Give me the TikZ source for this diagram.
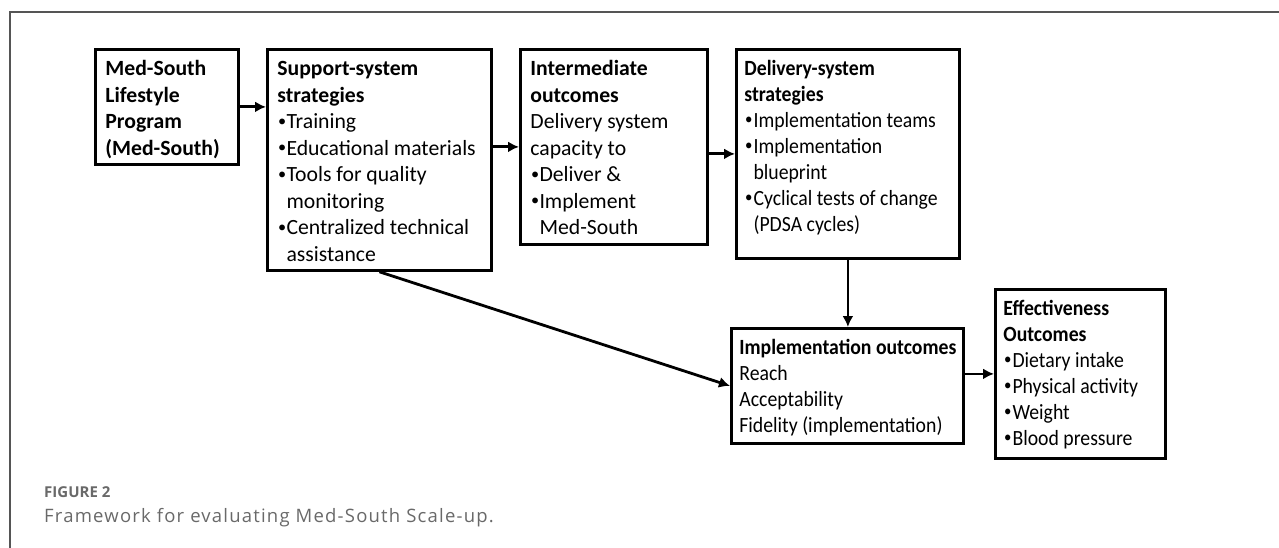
\documentclass[tikz,border=0pt]{standalone}
\usepackage{fontspec}
\setmainfont{Carlito}
\newfontfamily\narrowfont{Carlito}[FakeStretch=0.91]
\newfontfamily\capfont{Open Sans}
\newfontfamily\captextfont{Open Sans}[LetterSpace=6.5]
\usetikzlibrary{positioning,arrows.meta}
\definecolor{framegray}{RGB}{85,85,85}
\definecolor{capgray}{RGB}{105,105,105}
\tikzstyle{block} = [draw, rectangle, line width=2.8pt, anchor=north west, inner sep=0pt, font=\fontsize{21.7pt}{26.5pt}\selectfont]
\tikzstyle{narrowblock} = [block, font=\narrowfont\fontsize{21.7pt}{26pt}\selectfont]
\tikzstyle{line} = [draw, line width=2.8pt, -{Latex[length=11pt,width=11pt]}]
\tikzstyle{caption} = [anchor=base west, inner sep=0pt, text=capgray]
\newcommand{\nodebox}[3]{\parbox[c][#2][t]{#1}{\begin{tabular}[t]{@{}l@{}}#3\end{tabular}}}
\newcommand{\itm}[1]{\makebox[0.42em][l]{\hspace{0.03em}\raisebox{0.12em}{\scalebox{0.75}{\textbullet}}}#1}
\newcommand{\itmcont}[1]{\hspace*{0.42em}#1}

\begin{document}
\begin{tikzpicture}[x=1pt, y=-1pt]
\useasboundingbox (0,0) rectangle (1279,548);
% Frame
    \draw [framegray, line width=1.4pt] (10,548) -- (10,12) -- (1279,12);
% Boxes
    \node [block, minimum width=143pt, minimum height=115pt] (program) at (94,48)
        {\nodebox{123pt}{99pt}{\textbf{Med-South}\\ \textbf{Lifestyle}\\ \textbf{Program}\\ \textbf{(Med-South)}}};
    \node [block, minimum width=224pt, minimum height=221pt] (support) at (266,48)
        {\nodebox{204pt}{205pt}{\textbf{Support-system}\\ \textbf{strategies}\\ \itm{Training}\\ \itm{Educational materials}\\ \itm{Tools for quality}\\ \itmcont{monitoring}\\ \itm{Centralized technical}\\ \itmcont{assistance}}};
    \node [block, minimum width=187pt, minimum height=195pt] (interm) at (519,48)
        {\nodebox{167pt}{179pt}{\textbf{Intermediate}\\ \textbf{outcomes}\\ Delivery system\\ capacity to\\ \itm{Deliver \&}\\ \itm{Implement}\\ \itmcont{Med-South}}};
    \node [narrowblock, minimum width=223pt, minimum height=209pt] (delivery) at (735,48)
        {\nodebox{207pt}{193pt}{\textbf{Delivery-system}\\ \textbf{strategies}\\ \itm{Implementation teams}\\ \itm{Implementation}\\ \itmcont{blueprint}\\ \itm{Cyclical tests of change}\\ \itmcont{(PDSA cycles)}}};
    \node [narrowblock, minimum width=232pt, minimum height=115pt] (implout) at (730,327)
        {\nodebox{216pt}{99pt}{\textbf{Implementation outcomes}\\ Reach\\ Acceptability\\ Fidelity (implementation)}};
    \node [narrowblock, minimum width=170pt, minimum height=169pt] (effect) at (994,288)
        {\nodebox{154pt}{153pt}{\textbf{Effectiveness}\\ \textbf{Outcomes}\\ \itm{Dietary intake}\\ \itm{Physical activity}\\ \itm{Weight}\\ \itm{Blood pressure}}};
% Connectors
    \path [line] (program.east) -- (support.west |- program.east);
    \path [line] (support.east |- interm.west) -- (interm.west);
    \path [line] (interm.east |- delivery.west) -- (delivery.west);
    \path [line] (delivery.south) -- (delivery.south |- implout.north);
    \path [line] (support.south) -- (implout.west);
    \path [line] (implout.east |- effect.west) -- (effect.west);
% Caption
    \node [caption, font=\capfont\bfseries\fontsize{15pt}{17pt}\selectfont] (fignum) at (44,497) {FIGURE 2};
    \node [caption, font=\captextfont\fontsize{18.5pt}{21pt}\selectfont] (figtext) at (44,522) {Framework for evaluating Med-South Scale-up.};
\end{tikzpicture}
\end{document}
